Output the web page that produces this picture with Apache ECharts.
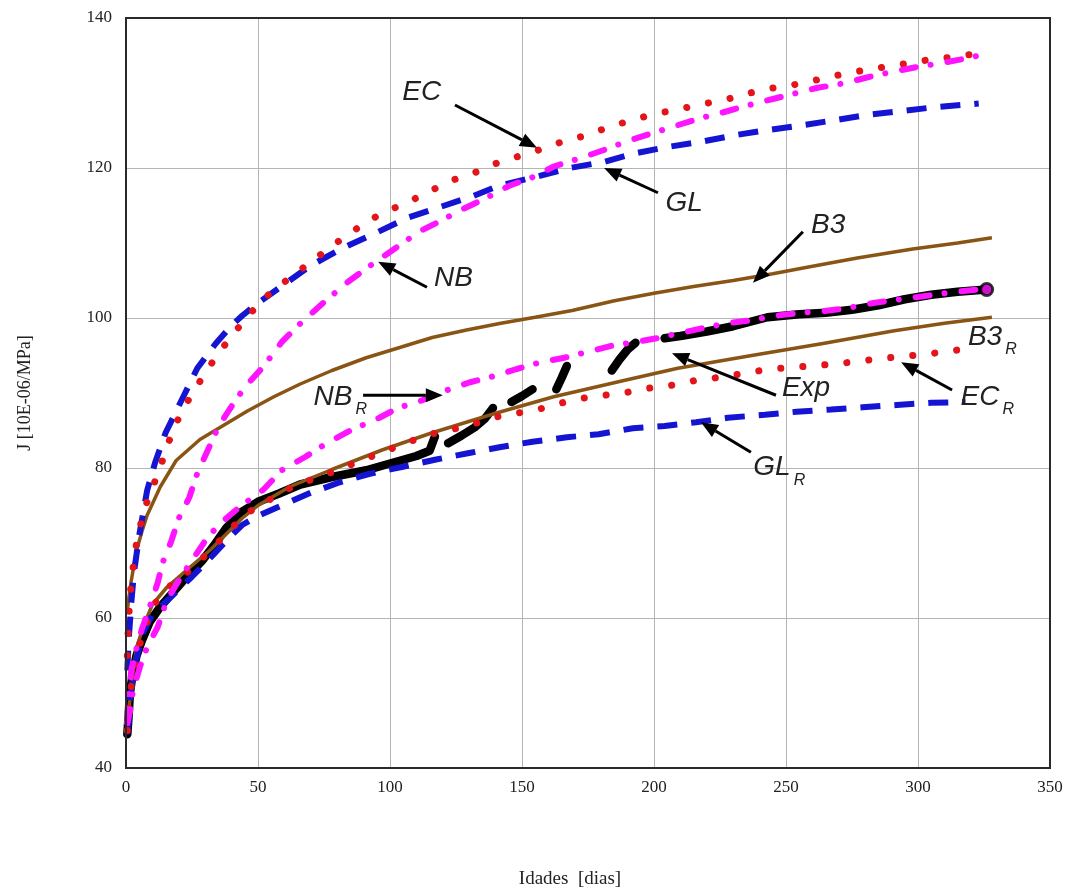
<!DOCTYPE html>
<html><head><meta charset="utf-8">
<script src="https://cdn.jsdelivr.net/npm/echarts@6/dist/echarts.min.js"></script>
<style>html,body{margin:0;padding:0;background:#fff}#c{width:1078px;height:896px}</style>
</head><body><div id="c"></div>
<script>
// ---- axis ticks ----
const xTicks = [0, 50, 100, 150, 200, 250, 300, 350];
const yTicks = [40, 60, 80, 100, 120, 140];

// ---- series data [age (days), J (10E-06/MPa)] ----
const EC = [[0.5,55],[1,60],[2,65],[4,70],[6.5,74],[8,75.5],[13,80.1],[16,83.3],[19,86],[24,89.3],[29,92.1],[34,94.8],[40,97.6],[46,100.2],[52,102.5],[57,104],[63,105.6],[72,108],[80,110.1],[89,112.3],[97,114],[106,115.3],[115,116.9],[123,118.3],[133,119.5],[140,120.6],[150,121.7],[158,122.6],[166,123.6],[175,124.4],[183,125.5],[192,126.4],[200,127.2],[209,127.8],[218,128.5],[227,129.1],[235,129.9],[244,130.6],[253,131.1],[261,131.7],[270,132.4],[279,133],[288,133.5],[297,134],[305,134.5],[314,134.8],[323,135.3]];
const GL = [[0.5,53],[1,57],[2,62],[3,66],[5,71],[6,73],[8,77],[11,80.7],[15,84.7],[21,89],[27,93.3],[34,96.6],[40,99],[44,100.3],[50,102],[56,103.5],[62,105],[70,107],[82,109.3],[95,111.4],[107,113.4],[119,114.8],[131,116.2],[141,117.6],[155,118.8],[168,120],[181,120.8],[192,121.9],[205,122.8],[218,123.5],[231,124.4],[244,125.1],[256,125.7],[269,126.4],[281,127.1],[294,127.6],[306,128.1],[320,128.5],[323,128.6]];
const NB = [[0.5,46],[1,50],[2,53],[4,56],[6,58.5],[9,61.5],[12,64.7],[14,67.5],[17,70.1],[20,73.3],[24,76.1],[27,79.3],[31,82.4],[35,85.5],[39,87.7],[45,90.8],[52,93.5],[59,96.8],[67,99.6],[75,102.1],[84,104.8],[93,107.1],[102,109.3],[111,111.5],[120,113.1],[128,114.6],[137,116.1],[145,117.6],[155,118.9],[162,120.2],[172,121.3],[181,122.4],[190,123.6],[199,124.6],[208,125.6],[217,126.6],[225,127.3],[235,128.3],[245,129.2],[254,130],[262,130.7],[272,131.3],[281,132.1],[290,132.8],[300,133.5],[309,134],[318,134.6],[327,135.3]];
const B3 = [[0.5,61],[1,62.5],[2,65],[4,69],[6,71.5],[8,73.7],[13,77.5],[19,81],[28,83.8],[37,85.7],[46,87.6],[56,89.5],[66,91.2],[78,93],[91,94.7],[104,96.1],[116,97.4],[129,98.4],[142,99.3],[155,100.1],[169,101],[185,102.3],[200,103.3],[215,104.2],[230,105],[245,105.9],[257,106.7],[277,108],[298,109.2],[315,110],[328,110.7]];
const B3R = [[0.5,45],[1,47.5],[2,51],[4,56],[6.5,58.8],[10,61.8],[15.5,64.1],[23,66.4],[32,69.1],[38,71.2],[44,73.3],[50,75],[62,77.5],[78,79.8],[97,82.4],[116,84.7],[140,87.3],[162,89.5],[189,91.7],[209,93.3],[237,95],[264,96.6],[291,98.3],[310,99.3],[328,100.1]];
const ECR = [[0.5,45],[1,48],[2,51],[4,55],[6.5,58],[10,61.5],[15,63.8],[23,66],[32,69],[40,72],[46,74],[53,75.5],[63,77.5],[80,79.7],[97,82.1],[106,83.3],[114,84.4],[123,85.1],[131,85.8],[140,86.8],[148,87.3],[156,87.8],[164,88.6],[173,89.3],[181,89.7],[190,90.1],[199,90.7],[208,91.1],[216,91.7],[225,92.1],[234,92.6],[242,93.1],[251,93.4],[260,93.6],[269,93.9],[277,94.2],[286,94.6],[295,94.9],[304,95.2],[312,95.6],[321,96]];
const GLR = [[0.5,44.5],[1,46],[1.5,49],[2.7,52.7],[4.5,55.3],[6.5,58],[10,60.5],[17,62.8],[25,65.5],[33,68.4],[39,70.7],[44,72.4],[50,73.6],[57,74.7],[70,76.7],[81,78.1],[92,79.2],[104,80.1],[117,81.1],[130,82],[142,82.8],[154,83.5],[167,84.1],[179,84.5],[192,85.3],[204,85.6],[216,86.1],[228,86.7],[242,87.1],[254,87.5],[267,87.8],[279,88.1],[292,88.4],[305,88.7],[318,88.8]];
const NBR = [[0.5,46],[1.5,47.5],[2.7,50.4],[5.3,53.5],[8,56.1],[12,58.8],[15.5,62.4],[20,65],[25,67.7],[31,70.8],[36,72.7],[43,74.8],[52,77.1],[59,79.7],[68,81.5],[76,83.3],[85,85],[96,86.7],[103,88],[112,89],[121,90.3],[130,91.4],[140,92.3],[148,93.2],[157,94.1],[166,94.7],[175,95.5],[184,96.3],[193,96.8],[201,97.3],[210,98],[219,98.7],[228,99.3],[237,99.7],[246,100.3],[256,100.7],[264,100.9],[273,101.3],[283,102],[291,102.4],[300,102.8],[310,103.3],[320,103.7],[327,104]];
// experimental data ('-' = gap between measurement runs)
const EXP = [[0.5,44.5],[1,47],[1.5,50],[2.5,52.5],[4,55],[6,57],[9,59.5],[13,61.5],[18,63.5],[23,65.5],[29,67.7],[34,70],[38,72],[44,74.2],[50,75.5],[58,76.6],[66,77.8],[78,78.8],[91,79.7],[100,80.6],[110,81.6],[115,82.3],[117,84.2],[118,'-'],[122,83.3],[127,84.3],[132,85.4],[136,86.6],[139,88],[142,'-'],[146,88.8],[150,89.6],[154,90.5],[158,'-'],[163,90.5],[165,92],[167,93.6],[175,'-'],[184,93],[187,94.5],[190,95.8],[193,96.7],[198,'-'],[204,97.3],[210,97.6],[220,98.2],[230,98.9],[243,100.1],[255,100.5],[265,100.7],[275,101.1],[285,101.7],[295,102.5],[305,103.1],[315,103.5],[326,103.8]];

// ---- annotations: label, subscript, text pos [t,J], arrow tail, arrow tip ----
const notes = [
  {txt:'EC', sub:'', at:[112,130.1], from:[124.6,128.4], to:[155.7,122.7]},
  {txt:'GL', sub:'', at:[211.4,115.3], from:[201.5,116.7], to:[181.1,120]},
  {txt:'B3', sub:'', at:[266,112.4], from:[256.4,111.5], to:[237.5,104.7]},
  {txt:'NB', sub:'', at:[124,105.3], from:[114,104.1], to:[95.5,107.5]},
  {txt:'NB', sub:'R', at:[78.4,89.5], from:[89.8,89.7], to:[120,89.7]},
  {txt:'Exp', sub:'', at:[257.6,90.7], from:[246.2,89.7], to:[206.8,95.3]},
  {txt:'EC', sub:'R', at:[323.5,89.5], from:[312.9,90.4], to:[293.6,94.1]},
  {txt:'GL', sub:'R', at:[244.7,80.1], from:[236.7,82.1], to:[217.8,86.1]},
  {txt:'B3', sub:'R', at:[325.4,97.5], from:null, to:null}
];

const RED = '#e3141a', BLUE = '#1414d2', MAG = '#ff14ff', BROWN = '#8a5414', BLACK = '#000';
const dotted = {type:[0.1, 22], cap:'round', width:7};
const dashed = {type:[20, 14], cap:'butt', width:6};
const dashDot = {type:[14, 15, 0.1, 17], cap:'round', width:6};

function line(name, data, color, style, z) {
  return {name, type:'line', data, symbol:'none', z: z || 2, connectNulls:false,
    lineStyle:Object.assign({color}, style), itemStyle:{color}};
}

const chart = echarts.init(document.getElementById('c'), null, {renderer:'canvas'});
const axisFont = {fontFamily:'"Liberation Serif", "DejaVu Serif", serif', fontSize:17, color:'#222'};
chart.setOption({
  animation:false,
  backgroundColor:'#fff',
  grid:{left:126, right:28, top:18, bottom:128, show:false, containLabel:false},
  xAxis:{type:'value', min:xTicks[0], max:xTicks[xTicks.length-1], interval:50,
    axisLine:{show:false}, axisTick:{show:false},
    splitLine:{show:true, lineStyle:{color:'#b5b5b5', width:1}},
    axisLabel:Object.assign({margin:11}, axisFont),
    name:'Idades  [dias]', nameLocation:'middle', nameGap:102,
    nameTextStyle:Object.assign({padding:[0,36,0,0]}, axisFont, {fontSize:19})},
  yAxis:{type:'value', min:yTicks[0], max:yTicks[yTicks.length-1], interval:20,
    axisLine:{show:false}, axisTick:{show:false},
    splitLine:{show:true, lineStyle:{color:'#b5b5b5', width:1}},
    axisLabel:Object.assign({margin:14}, axisFont),
    name:'J [10E-06/MPa]', nameLocation:'middle', nameGap:92,
    nameTextStyle:Object.assign({}, axisFont, {fontSize:18})},
  series:[
    line('Exp', EXP, BLACK, {width:8.5, cap:'round', join:'round'}, 1),
    line('B3', B3, BROWN, {width:3.5}),
    line('B3R', B3R, BROWN, {width:3.5}),
    line('GL', GL, BLUE, dashed),
    line('GLR', GLR, BLUE, dashed),
    line('EC', EC, RED, dotted),
    line('ECR', ECR, RED, dotted),
    line('NB', NB, MAG, dashDot),
    line('NBR', NBR, MAG, dashDot),
    {name:'ExpEnd', type:'scatter', data:[EXP[EXP.length-1]], symbol:'circle', symbolSize:12, z:5,
      itemStyle:{color:MAG, borderColor:BLACK, borderWidth:3}}
  ]
});

// annotations and frame positioned through the chart's own scales
const cnv = document.createElement('canvas').getContext('2d');
const FONT_FAMILY = '"Liberation Sans", Arial, sans-serif';
cnv.font = 'italic 28px ' + FONT_FAMILY;
const gfx = [];
const c0 = chart.convertToPixel({gridIndex:0}, [xTicks[0], yTicks[yTicks.length-1]]);
const c1 = chart.convertToPixel({gridIndex:0}, [xTicks[xTicks.length-1], yTicks[0]]);
gfx.push({type:'rect', z:50, shape:{x:c0[0], y:c0[1], width:c1[0]-c0[0], height:c1[1]-c0[1]},
  style:{fill:null, stroke:'#2a2a2a', lineWidth:2}});
notes.forEach(n => {
  const p = chart.convertToPixel({gridIndex:0}, n.at);
  gfx.push({type:'text', x:p[0], y:p[1], z:100,
    style:{text:n.txt, fontSize:28, fontStyle:'italic', fontFamily:FONT_FAMILY, fill:'#222', align:'center', verticalAlign:'middle'}});
  if (n.sub) {
    const w = cnv.measureText(n.txt).width;
    gfx.push({type:'text', x:p[0] + w/2 + 3, y:p[1] + 13, z:100,
      style:{text:n.sub, fontSize:16, fontStyle:'italic', fontFamily:FONT_FAMILY, fill:'#222', align:'left', verticalAlign:'middle'}});
  }
  if (n.from) {
    const a = chart.convertToPixel({gridIndex:0}, n.from);
    const b = chart.convertToPixel({gridIndex:0}, n.to);
    const dx = b[0]-a[0], dy = b[1]-a[1], L = Math.hypot(dx, dy);
    const ux = dx/L, uy = dy/L, hl = 17, hw = 7;
    const bx = b[0]-ux*hl, by = b[1]-uy*hl;
    gfx.push({type:'line', z:100, shape:{x1:a[0], y1:a[1], x2:bx, y2:by}, style:{stroke:'#000', lineWidth:3}});
    gfx.push({type:'polygon', z:100, shape:{points:[[b[0],b[1]],[bx-uy*hw, by+ux*hw],[bx+uy*hw, by-ux*hw]]}, style:{fill:'#000'}});
  }
});
chart.setOption({graphic:gfx});
</script>
</body></html>
